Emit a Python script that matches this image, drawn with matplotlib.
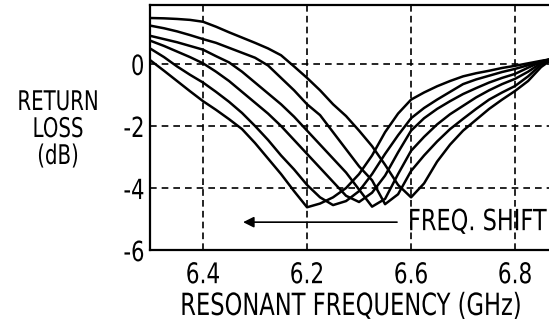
import matplotlib
matplotlib.use("Agg")
import matplotlib.pyplot as plt
from matplotlib.patheffects import AbstractPathEffect
from matplotlib.transforms import Affine2D
import warnings
warnings.filterwarnings("ignore")

# ---- data ----
freq = [6.100, 6.125, 6.150, 6.175, 6.200, 6.225, 6.250, 6.275, 6.300, 6.325,
        6.350, 6.375, 6.400, 6.425, 6.450, 6.475, 6.500, 6.525, 6.550, 6.575,
        6.600, 6.625, 6.650, 6.675, 6.700, 6.725, 6.750, 6.775, 6.800, 6.825,
        6.850, 6.875]

curve_a = [1.48, 1.47, 1.45, 1.42, 1.36, 1.20, 1.02, 0.85, 0.68, 0.50,
           0.28, -0.08, -0.45, -0.85, -1.30, -1.68, -2.15, -2.65, -3.25, -3.90,
           -4.30, -3.85, -3.15, -2.60, -2.15, -1.80, -1.45, -1.15, -0.87, -0.55,
           -0.10, 0.20]
curve_b = [1.23, 1.15, 1.05, 0.93, 0.80, 0.68, 0.52, 0.36, 0.20, -0.05,
           -0.45, -0.85, -1.30, -1.65, -2.20, -2.75, -3.30, -3.75, -4.52, -4.20,
           -3.45, -2.95, -2.50, -2.10, -1.77, -1.45, -1.15, -0.92, -0.71, -0.40,
           -0.02, 0.20]
curve_c = [0.90, 0.80, 0.70, 0.58, 0.46, 0.25, 0.05, -0.25, -0.60, -0.95,
           -1.30, -1.70, -2.15, -2.60, -3.05, -3.50, -4.05, -4.60, -4.35, -3.55,
           -2.80, -2.35, -1.95, -1.62, -1.35, -1.08, -0.85, -0.65, -0.48, -0.25,
           0.03, 0.20]
curve_d = [0.74, 0.58, 0.40, 0.22, 0.02, -0.25, -0.55, -0.90, -1.25, -1.60,
           -2.00, -2.45, -2.90, -3.35, -3.80, -4.25, -4.45, -4.15, -3.60, -2.85,
           -2.15, -1.75, -1.45, -1.20, -0.97, -0.78, -0.60, -0.45, -0.32, -0.12,
           0.07, 0.18]
curve_e = [0.48, 0.22, -0.08, -0.35, -0.60, -0.90, -1.22, -1.58, -2.00, -2.45,
           -2.95, -3.40, -3.90, -4.30, -4.55, -4.42, -4.10, -3.55, -2.90, -2.30,
           -1.75, -1.42, -1.15, -0.90, -0.65, -0.50, -0.38, -0.26, -0.16, -0.04,
           0.08, 0.18]
curve_f = [0.10, -0.22, -0.55, -0.88, -1.20, -1.48, -1.78, -2.10, -2.55, -3.05,
           -3.55, -4.10, -4.62, -4.50, -4.30, -4.00, -3.55, -2.95, -2.20, -1.60,
           -1.15, -0.92, -0.72, -0.55, -0.40, -0.30, -0.22, -0.13, -0.06, 0.02,
           0.10, 0.17]

x_ticks = [6.2, 6.4, 6.6, 6.8]
x_tick_labels = ["6.4", "6.2", "6.6", "6.8"]
y_ticks = [0, -2, -4, -6]
y_tick_labels = ["0", "-2", "-4", "-6"]
shift_arrow_from = 6.573
shift_arrow_to = 6.277
shift_level = -5.1

plt.rcParams["font.family"] = ["DejaVu Sans"]


class Condense(AbstractPathEffect):
    """Draw a text narrower (horizontally scaled about its anchor point)."""

    def __init__(self, text, sx):
        super().__init__()
        self.text = text
        self.sx = sx

    def draw_path(self, renderer, gc, tpath, affine, rgbFace=None):
        x0, _ = self.text.get_transform().transform(self.text.get_unitless_position())
        aff = affine + Affine2D().translate(-x0, 0).scale(self.sx, 1).translate(x0, 0)
        renderer.draw_path(gc, tpath, aff, rgbFace)


def condense(t, sx):
    t.set_path_effects([Condense(t, sx)])
    return t


fig = plt.figure(figsize=(5.49, 3.33), dpi=100)
ax = fig.add_axes([0.2732, 0.249, 0.7304, 0.736])

for ys in [curve_a, curve_b, curve_c, curve_d, curve_e, curve_f]:
    ax.plot(freq, ys, color="black", lw=1.8, zorder=3, solid_joinstyle="round")

for xv in x_ticks:
    ax.axvline(xv, color="black", lw=1.2, dashes=(4, 2.5), zorder=1)
for yv in y_ticks[:-1]:
    ax.axhline(yv, color="black", lw=1.2, dashes=(4, 3), zorder=1)

ax.set_xlim(6.098, 6.869)
ax.set_ylim(-6, 1.9)
ax.set_xticks(x_ticks)
ax.set_xticklabels(x_tick_labels, fontsize=20.5)
ax.set_yticks(y_ticks)
ax.set_yticklabels(y_tick_labels, fontsize=20)
ax.tick_params(axis="x", length=0, pad=8)
ax.tick_params(axis="y", length=0, pad=4)
for lbl in ax.get_xticklabels() + ax.get_yticklabels():
    condense(lbl, 0.76)
for s in ["left", "top", "bottom"]:
    ax.spines[s].set_linewidth(1.6)
ax.spines["right"].set_visible(False)

xl = ax.set_xlabel("RESONANT FREQUENCY (GHz)", fontsize=22, labelpad=2)
condense(xl, 0.74)

yl = fig.text(58 / 549, 1 - 130 / 333, "RETURN\nLOSS\n(dB)", ha="center", va="center",
              fontsize=19.5, linespacing=1.05)
condense(yl, 0.73)

ax.annotate("", xy=(shift_arrow_to, shift_level), xytext=(shift_arrow_from, shift_level),
            arrowprops=dict(arrowstyle="-|>", color="black", lw=1.2, mutation_scale=16,
                            shrinkA=0, shrinkB=0), zorder=4)
fs = ax.text(6.594, shift_level, "FREQ. SHIFT", fontsize=21, ha="left", va="center",
             clip_on=False)
condense(fs, 0.77)

fg = fig.text(312 / 549, -0.09, "FIG. 8", ha="center", va="baseline", fontsize=21)
condense(fg, 0.8)

fig.savefig("out.png", dpi=100)
